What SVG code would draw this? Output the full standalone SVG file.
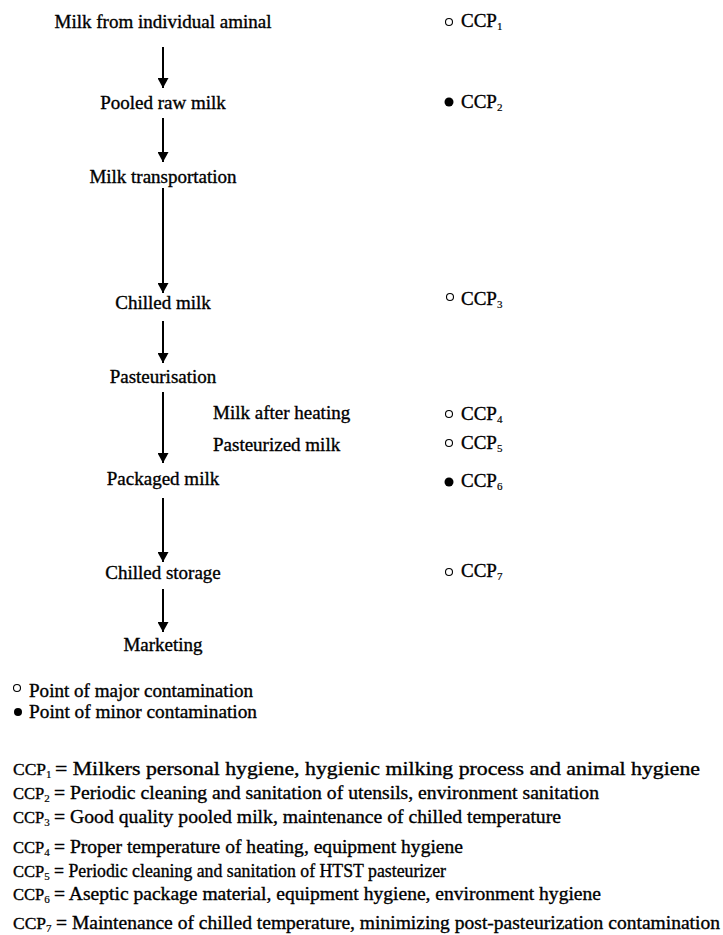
<svg xmlns="http://www.w3.org/2000/svg" width="723" height="935" viewBox="0 0 723 935">
<defs>
<marker id="ah" viewBox="0 0 10 11" refX="10" refY="5.5" markerWidth="10" markerHeight="11" markerUnits="userSpaceOnUse" orient="auto">
<path d="M0,0 L10,5.5 L0,11 Z" fill="#000"/>
</marker>
</defs>
<style>
text{font-family:"Liberation Serif","Times New Roman",serif;font-size:19px;fill:#000;stroke:#000;stroke-width:0.35px}
.c{text-anchor:middle}
.s{font-size:11px;stroke-width:0.2px}
.p{font-size:16.5px;transform-box:fill-box}
.pw{font-size:17.5px}
.oc{fill:#fff;stroke:#000;stroke-width:1.1}
.fc{fill:#000}
.arr{stroke:#000;stroke-width:2;fill:none;marker-end:url(#ah)}
</style>
<rect width="723" height="935" fill="#fff"/>
<g id="connectors">
<line class="arr" x1="163" y1="47" x2="163" y2="88"/>
<line class="arr" x1="163" y1="118" x2="163" y2="162"/>
<line class="arr" x1="163" y1="188" x2="163" y2="293"/>
<line class="arr" x1="163" y1="321" x2="163" y2="363"/>
<line class="arr" x1="163" y1="392" x2="163" y2="463"/>
<line class="arr" x1="163" y1="498" x2="163" y2="562"/>
<line class="arr" x1="163" y1="589" x2="163" y2="632"/>
</g>
<g id="n1"><text class="c" x="163" y="28">Milk from individual aminal</text></g>
<g id="n2"><text class="c" x="163" y="109">Pooled raw milk</text></g>
<g id="n3"><text class="c" x="163" y="183">Milk transportation</text></g>
<g id="n4"><text class="c" x="163" y="309">Chilled milk</text></g>
<g id="n5"><text class="c" x="163" y="383">Pasteurisation</text></g>
<g id="n5a"><text x="213" y="419">Milk after heating</text></g>
<g id="n5b"><text x="213" y="451">Pasteurized milk</text></g>
<g id="n6"><text class="c" x="163" y="485">Packaged milk</text></g>
<g id="n7"><text class="c" x="163" y="579">Chilled storage</text></g>
<g id="n8"><text class="c" x="163" y="651">Marketing</text></g>

<g id="ccp1"><circle class="oc" cx="449" cy="22" r="3.5"/><text x="461" y="27">CCP<tspan class="s" dy="3">1</tspan></text></g>
<g id="ccp2"><circle class="fc" cx="449" cy="102" r="4.5"/><text x="461" y="108">CCP<tspan class="s" dy="3">2</tspan></text></g>
<g id="ccp3"><circle class="oc" cx="450" cy="297" r="3.5"/><text x="461" y="305">CCP<tspan class="s" dy="3">3</tspan></text></g>
<g id="ccp4"><circle class="oc" cx="449" cy="414" r="3.5"/><text x="461" y="420">CCP<tspan class="s" dy="3">4</tspan></text></g>
<g id="ccp5"><circle class="oc" cx="449" cy="443" r="3.5"/><text x="461" y="449">CCP<tspan class="s" dy="3">5</tspan></text></g>
<g id="ccp6"><circle class="fc" cx="449" cy="482" r="4.5"/><text x="461" y="487">CCP<tspan class="s" dy="3">6</tspan></text></g>
<g id="ccp7"><circle class="oc" cx="449" cy="572" r="3.5"/><text x="461" y="577">CCP<tspan class="s" dy="3">7</tspan></text></g>

<g id="legend">
<circle class="oc" cx="17" cy="688" r="3.5"/>
<text x="29" y="697" textLength="224" lengthAdjust="spacingAndGlyphs">Point of major contamination</text>
<circle class="fc" cx="18" cy="712" r="4"/>
<text x="29" y="718" textLength="228" lengthAdjust="spacingAndGlyphs">Point of minor contamination</text>
</g>

<g id="definitions">
<text class="pw" x="13" y="775">CCP<tspan class="s" dy="3">1</tspan></text>
<text x="55" y="775" textLength="645" lengthAdjust="spacingAndGlyphs">= Milkers personal hygiene, hygienic milking process and animal hygiene</text>
<text class="p" x="13" y="799">CCP<tspan class="s" dy="3">2</tspan></text>
<text x="54" y="799" textLength="545" lengthAdjust="spacingAndGlyphs">= Periodic cleaning and sanitation of utensils, environment sanitation</text>
<text class="p" x="13" y="823">CCP<tspan class="s" dy="3">3</tspan></text>
<text x="54" y="823" textLength="507" lengthAdjust="spacingAndGlyphs">= Good quality pooled milk, maintenance of chilled temperature</text>
<text class="p" x="13" y="853">CCP<tspan class="s" dy="3">4</tspan></text>
<text x="54" y="853" textLength="409" lengthAdjust="spacingAndGlyphs">= Proper temperature of heating, equipment hygiene</text>
<text class="p" x="13" y="877">CCP<tspan class="s" dy="3">5</tspan></text>
<text x="54" y="877" textLength="392" lengthAdjust="spacingAndGlyphs">= Periodic cleaning and sanitation of HTST pasteurizer</text>
<text class="p" x="13" y="900">CCP<tspan class="s" dy="3">6</tspan></text>
<text x="54" y="900" textLength="547" lengthAdjust="spacingAndGlyphs">= Aseptic package material, equipment hygiene, environment hygiene</text>
<text class="pw" x="13" y="929">CCP<tspan class="s" dy="3">7</tspan></text>
<text x="56" y="929" textLength="664" lengthAdjust="spacingAndGlyphs">= Maintenance of chilled temperature, minimizing post-pasteurization contamination</text>
</g>
</svg>
